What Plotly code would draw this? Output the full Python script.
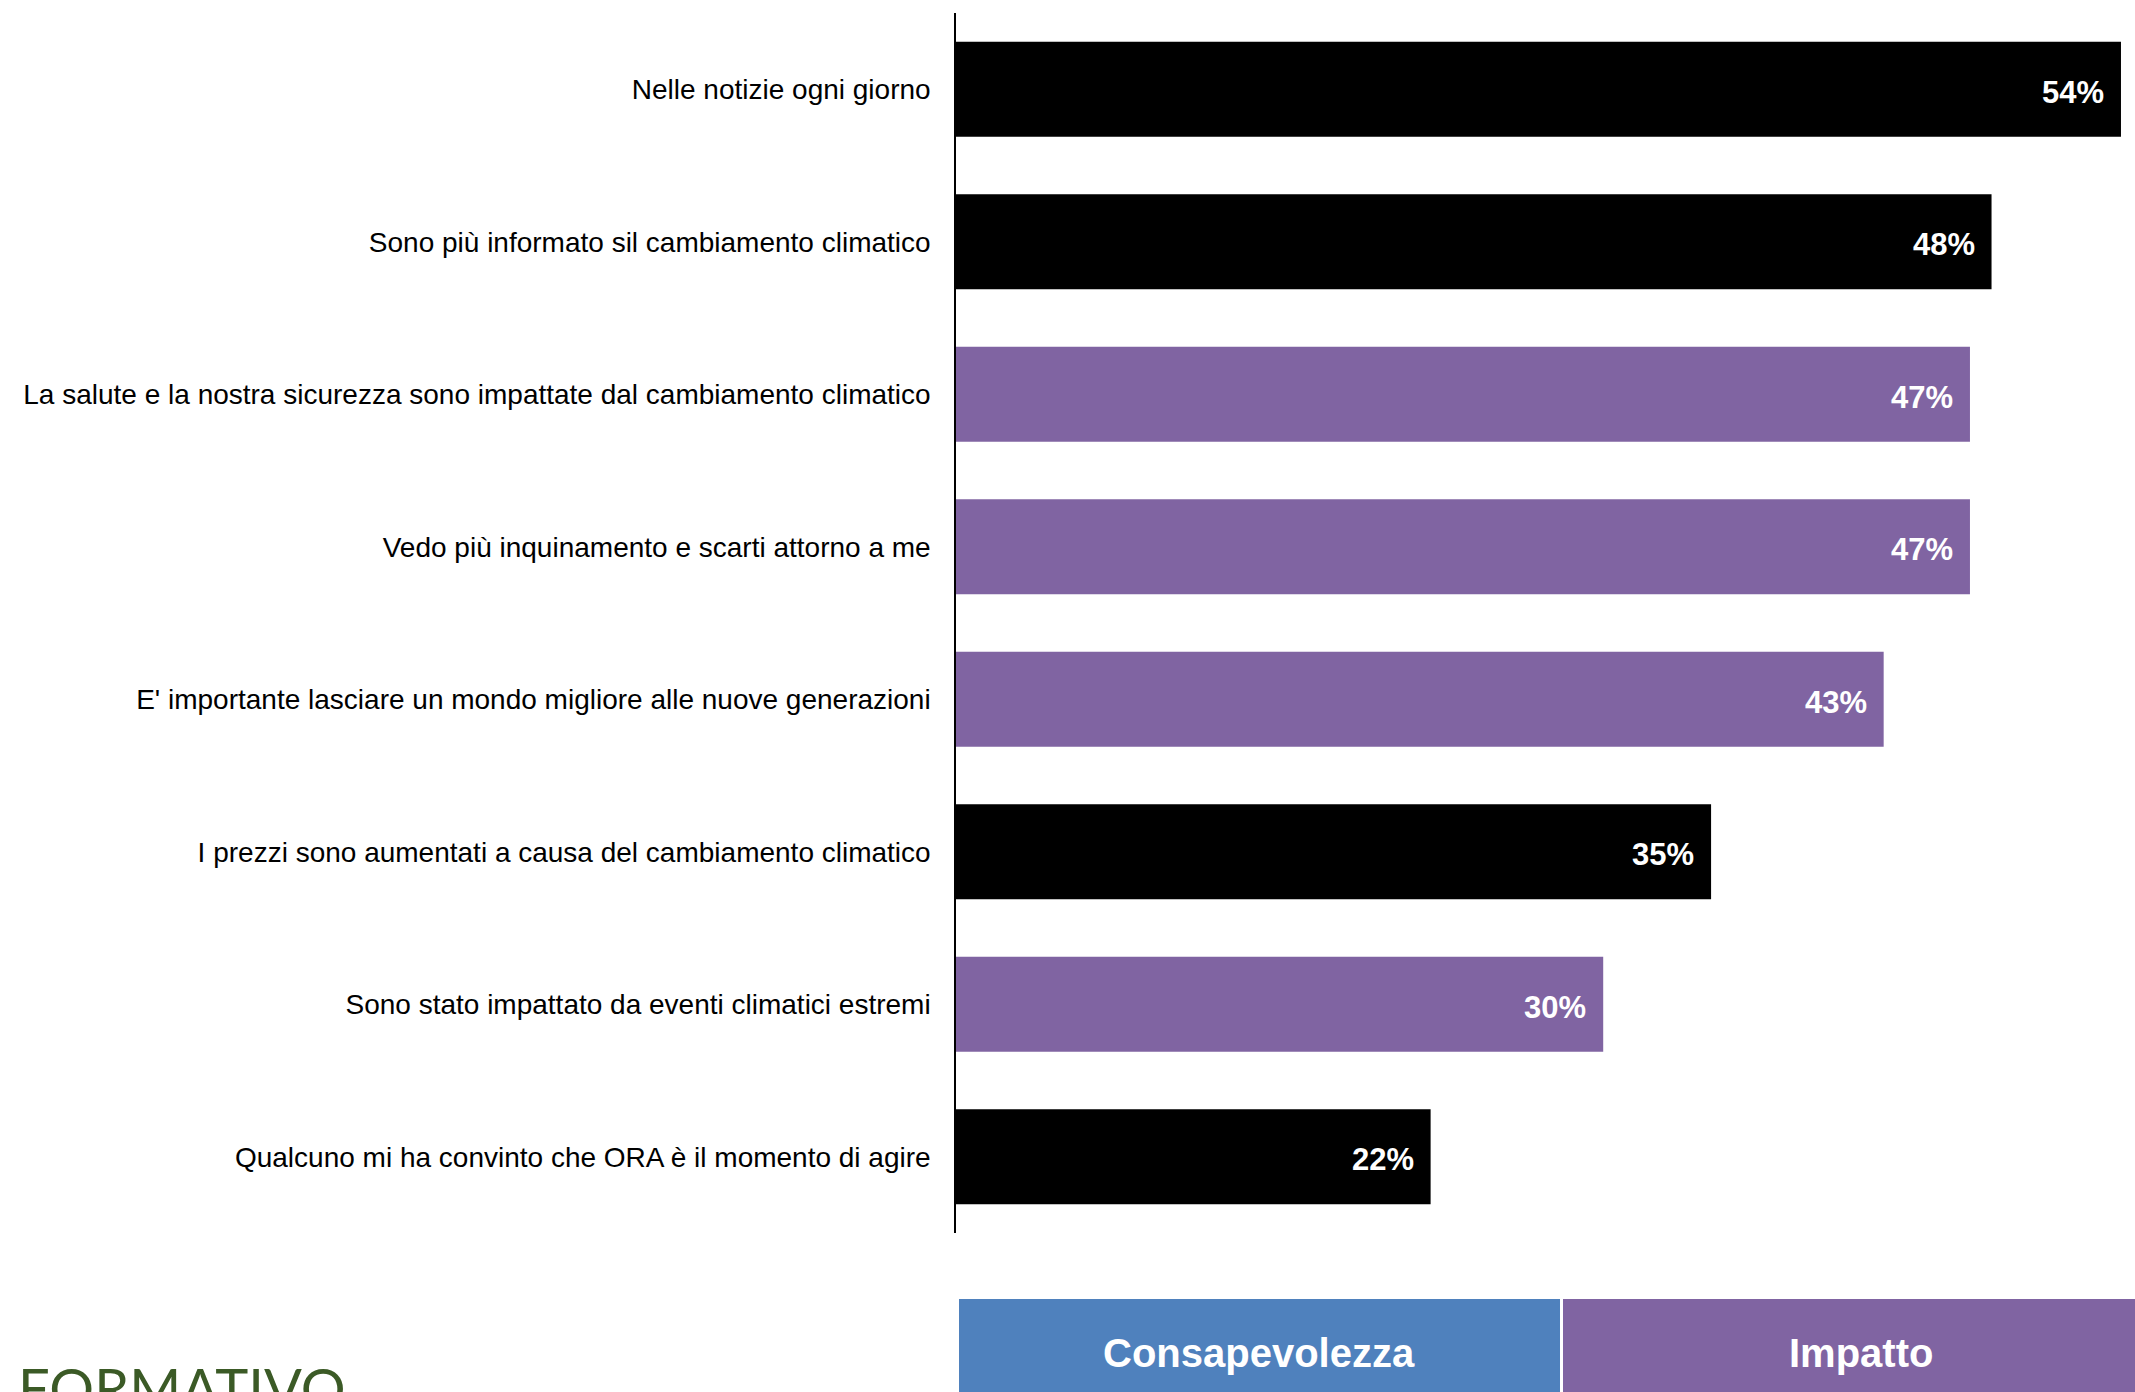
import plotly.graph_objects as go

# Survey answers, top to bottom
categories = [
    "Nelle notizie ogni giorno",
    "Sono più informato sil cambiamento climatico",
    "La salute e la nostra sicurezza sono impattate dal cambiamento climatico",
    "Vedo più inquinamento e scarti attorno a me",
    "E' importante lasciare un mondo migliore alle nuove generazioni",
    "I prezzi sono aumentati a causa del cambiamento climatico",
    "Sono stato impattato da eventi climatici estremi",
    "Qualcuno mi ha convinto che ORA è il momento di agire",
]
values = [54, 48, 47, 47, 43, 35, 30, 22]
groups = ["Consapevolezza", "Consapevolezza", "Impatto", "Impatto",
          "Impatto", "Consapevolezza", "Impatto", "Consapevolezza"]

group_names = ["Consapevolezza", "Impatto"]
bar_colors = {"Consapevolezza": "#000000", "Impatto": "#8064A2"}
box_colors = {"Consapevolezza": "#4F81BD", "Impatto": "#8064A2"}

W, H = 2135, 1392
M_L, M_R, M_T, M_B = 956, 0, 13, 159
plot_w = W - M_L - M_R
plot_h = H - M_T - M_B


def px_to_paper_x(px):
    return (px - M_L) / plot_w


def px_to_paper_y(py):
    return (H - M_B - py) / plot_h


fig = go.Figure(
    go.Bar(
        x=values,
        y=categories,
        orientation="h",
        marker=dict(color=[bar_colors[g] for g in groups], line=dict(width=0)),
        hoverinfo="x+y",
    )
)

# value labels inside the bar ends
for cat, v in zip(categories, values):
    fig.add_annotation(
        x=v, y=cat, xref="x", yref="y",
        text=f"<b>{v}%</b>", showarrow=False,
        xanchor="right", yanchor="middle", xshift=-15, yshift=-3,
        font=dict(family="Liberation Sans, Arial, sans-serif", size=31, color="white"),
    )

# group key boxes under the chart
box_top = px_to_paper_y(1299)
box_bot = px_to_paper_y(1460)
box_spans = {"Consapevolezza": (959, 1560), "Impatto": (1563, 2190)}
label_x = {"Consapevolezza": 1259, "Impatto": 1861}
for g in group_names:
    x0, x1 = box_spans[g]
    fig.add_shape(
        type="rect", xref="paper", yref="paper",
        x0=px_to_paper_x(x0), x1=px_to_paper_x(x1), y0=box_bot, y1=box_top,
        fillcolor=box_colors[g], line=dict(width=0), layer="above",
    )
    fig.add_annotation(
        x=px_to_paper_x(label_x[g]), y=px_to_paper_y(1353),
        xref="paper", yref="paper", text=f"<b>{g}</b>", showarrow=False,
        xanchor="center", yanchor="middle",
        font=dict(family="Liberation Sans, Arial, sans-serif", size=40, color="white"),
    )

fig.add_annotation(
    x=px_to_paper_x(16), y=px_to_paper_y(1387),
    xref="paper", yref="paper", text="FORMATIVO", showarrow=False,
    xanchor="left", yanchor="middle",
    font=dict(family="Lato, Open Sans, sans-serif", size=56, color="#3B5A26", weight=400),
)

fig.update_layout(
    width=W, height=H,
    margin=dict(l=M_L, r=M_R, t=M_T, b=M_B, pad=0),
    paper_bgcolor="white", plot_bgcolor="white",
    bargap=0.377,
    showlegend=False,
    xaxis=dict(range=[0, 54.65], visible=False, fixedrange=True),
    yaxis=dict(
        type="category",
        categoryorder="array", categoryarray=categories,
        range=[7.5, -0.5],
        showline=True, linecolor="black", linewidth=1.5,
        showgrid=False, zeroline=False, ticks="",
        ticklabelstandoff=18,
        tickfont=dict(family="Liberation Sans, Arial, sans-serif", size=28, color="black"),
        fixedrange=True,
    ),
)

fig.write_html("out.html")
